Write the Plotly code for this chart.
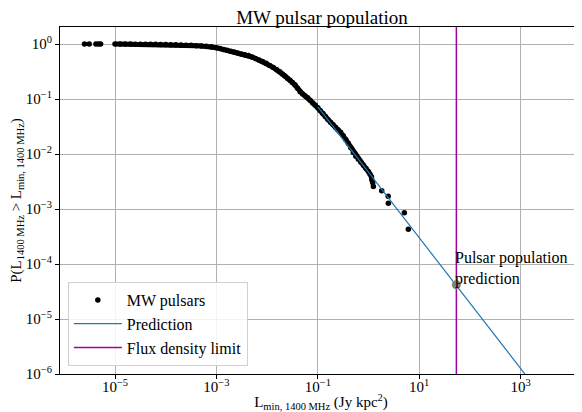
import math
import plotly.graph_objects as go

# ---------------- data ----------------
pulsar_L = [
    2.5e-6, 3.1e-6, 4.2e-6, 4.7e-6, 5.2e-6,
    1.0e-5, 1.26e-5, 1.58e-5, 2.0e-5, 2.51e-5, 3.16e-5, 3.98e-5, 5.01e-5, 6.31e-5, 7.94e-5,
    1.0e-4, 1.26e-4, 1.58e-4, 2.0e-4, 2.51e-4, 3.16e-4, 3.98e-4, 5.01e-4, 6.31e-4, 7.94e-4,
    1.0e-3, 1.17e-3, 1.38e-3, 1.62e-3, 1.91e-3, 2.24e-3, 2.63e-3, 3.09e-3, 3.63e-3, 4.27e-3,
    5.01e-3, 5.89e-3, 6.92e-3, 8.13e-3, 9.55e-3, 1.12e-2, 1.32e-2, 1.55e-2, 1.78e-2,
    2.0e-2, 2.24e-2, 2.51e-2, 2.82e-2, 3.16e-2, 3.55e-2, 3.98e-2, 4.47e-2, 5.01e-2, 5.62e-2,
    6.31e-2, 7.08e-2, 7.94e-2, 8.91e-2, 0.1, 0.112, 0.126, 0.141, 0.158, 0.178, 0.2, 0.224,
    0.251, 0.282, 0.316, 0.355, 0.398, 0.447, 0.501, 0.562, 0.631, 0.708, 0.794, 0.891, 1.0,
    1.07, 1.14, 1.16, 1.21, 1.245, 1.82, 2.44, 2.46, 5.08, 6.10,
]
pulsar_P = [
    1.0, 1.0, 0.999, 0.999, 0.999,
    0.999, 0.998, 0.998, 0.997, 0.996, 0.995, 0.993, 0.991, 0.988, 0.985,
    0.981, 0.976, 0.970, 0.963, 0.955, 0.946, 0.935, 0.922, 0.908, 0.893,
    0.855, 0.826, 0.798, 0.771, 0.743, 0.716, 0.689, 0.662, 0.638, 0.617,
    0.582, 0.547, 0.513, 0.481, 0.447, 0.409, 0.374, 0.340, 0.313,
    0.286, 0.262, 0.239, 0.219, 0.200, 0.180, 0.157, 0.136, 0.124, 0.114,
    0.105, 0.0946, 0.0851, 0.0767, 0.0692, 0.0614, 0.0543, 0.0481, 0.0426, 0.0380, 0.0342, 0.0308,
    0.0277, 0.0248, 0.0214, 0.0183, 0.0157, 0.0130, 0.0107, 0.00912, 0.00805, 0.00711, 0.00625, 0.00546, 0.00476,
    4.27e-3, 3.85e-3, 3.42e-3, 2.99e-3, 2.56e-3, 2.14e-3, 1.71e-3, 1.28e-3, 8.55e-4, 4.27e-4,
]
n_isolated_low = 5    # isolated pulsars at the faint end
n_isolated_high = 10  # isolated pulsars at the bright end

pred_L = [0.1, 6000.0]
pred_P = [7.2e-2, 1.49e-7]

flux_limit_L = 54.0
pred_point_L = 54.0
pred_point_P = 4.2e-5

x_ticks = [1e-5, 1e-3, 1e-1, 1e1, 1e3]
x_tick_text = ["10<sup>−5</sup>", "10<sup>−3</sup>", "10<sup>−1</sup>", "10<sup>1</sup>", "10<sup>3</sup>"]
y_ticks = [1e-6, 1e-5, 1e-4, 1e-3, 1e-2, 1e-1, 1e0]
y_tick_text = ["10<sup>−6</sup>", "10<sup>−5</sup>", "10<sup>−4</sup>", "10<sup>−3</sup>",
               "10<sup>−2</sup>", "10<sup>−1</sup>", "10<sup>0</sup>"]

FONT = "Liberation Serif"

fig = go.Figure()

# dense part of the distribution: overlapping points form a continuous band
fig.add_trace(go.Scatter(
    x=pulsar_L[n_isolated_low:-n_isolated_high],
    y=pulsar_P[n_isolated_low:-n_isolated_high],
    mode="lines", showlegend=False, hoverinfo="skip",
    line=dict(color="black", width=5),
))
fig.add_trace(go.Scatter(
    x=pulsar_L, y=pulsar_P, mode="markers", name="MW pulsars",
    marker=dict(color="black", size=5.5, line=dict(width=0)),
))
fig.add_trace(go.Scatter(
    x=pred_L, y=pred_P, mode="lines", name="Prediction",
    line=dict(color="#1f77b4", width=1.2),
))
fig.add_trace(go.Scatter(
    x=[flux_limit_L, flux_limit_L], y=[1e-8, 1e2], mode="lines",
    name="Flux density limit", line=dict(color="#a000a8", width=1.5),
))
fig.add_trace(go.Scatter(
    x=[pred_point_L], y=[pred_point_P], mode="markers", showlegend=False,
    marker=dict(color="grey", size=9),
))

fig.add_annotation(
    x=math.log10(pred_point_L), y=math.log10(pred_point_P),
    xref="x", yref="y", text="Pulsar population<br>prediction",
    showarrow=False, xanchor="left", yanchor="bottom", align="left",
    font=dict(family=FONT, size=16, color="black"), yshift=-5, xshift=-3,
)

# the page body adds an 8px offset; the figure fills the rest of the 582x412 window
fig.update_layout(
    width=574, height=404,
    margin=dict(l=52, r=0, t=19, b=38, autoexpand=False),
    plot_bgcolor="white", paper_bgcolor="white",
    font=dict(family=FONT, size=16, color="black"),
    title=dict(text="MW pulsar population", x=0.547, xanchor="center",
               y=0.978, yanchor="middle", font=dict(family=FONT, size=19),
               automargin=False),
    legend=dict(x=0.015, y=0.023, xanchor="left", yanchor="bottom",
                bgcolor="rgba(255,255,255,0.85)", bordercolor="#d0d0d0",
                borderwidth=1, font=dict(family=FONT, size=16),
                tracegroupgap=0, itemwidth=48),
    showlegend=True,
)

fig.update_xaxes(
    type="log", range=[-6.085, 4.21], automargin=False,
    tickvals=x_ticks, ticktext=x_tick_text,
    showgrid=True, gridcolor="#b0b0b0", gridwidth=1,
    showline=True, linecolor="black", linewidth=1, mirror=True,
    ticks="outside", ticklen=4, tickcolor="black",
    tickfont=dict(family=FONT, size=15), ticklabelstandoff=-5,
    title=dict(text="L<sub>min, 1400 MHz</sub> (Jy kpc<sup>2</sup>)",
               font=dict(family=FONT, size=15), standoff=2),
    zeroline=False,
)
fig.update_yaxes(
    type="log", range=[-6, 0.31], automargin=False,
    tickvals=y_ticks, ticktext=y_tick_text,
    showgrid=True, gridcolor="#b0b0b0", gridwidth=1,
    showline=True, linecolor="black", linewidth=1, mirror=False,
    ticks="outside", ticklen=4, tickcolor="black",
    tickfont=dict(family=FONT, size=15),
    title=dict(text="P(L<sub>1400 MHz</sub> > L<sub>min, 1400 MHz</sub>)",
               font=dict(family=FONT, size=15), standoff=4),
    zeroline=False,
)

fig.write_html("out.html")
